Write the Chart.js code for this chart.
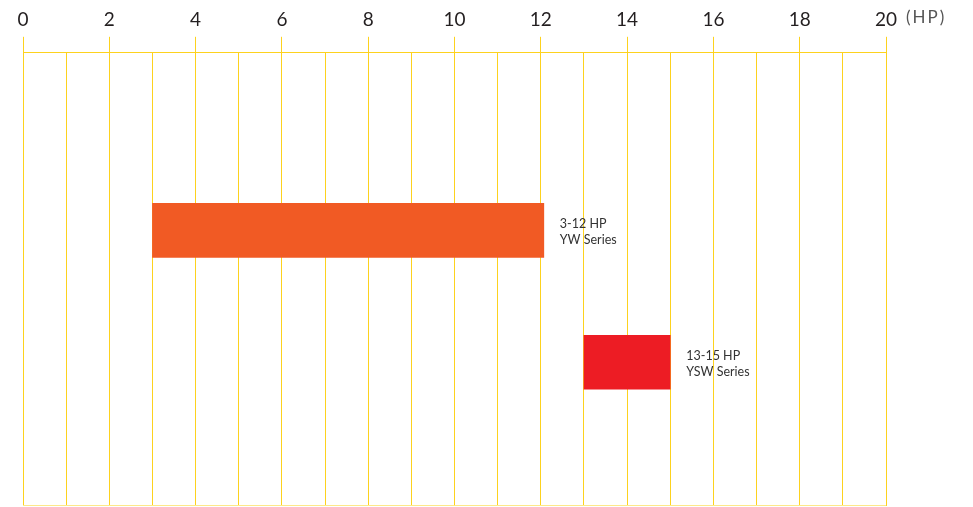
<!DOCTYPE html>
<html>
<head>
<meta charset="utf-8">
<script src="https://cdn.jsdelivr.net/npm/chart.js@4/dist/chart.umd.min.js"></script>
<style>
  html, body { margin: 0; padding: 0; background: #fff; }
  #wrap { width: 973px; height: 507px; }
</style>
</head>
<body>
<div id="wrap"><canvas id="hpChart"></canvas></div>
<script>
// Gamas de potencia (HP)
const series = ["YW Series", "YSW Series"];
const rangeLabels = ["3-12 HP", "13-15 HP"];
const rangeStart = [3, 13];
const rangeEnd = [12.07, 15];
const barColors = ["#f15a24", "#ed1c24"];

const gridYellow = "#fdd21e";

// etiquetas a la derecha de cada barra
const barLabels = {
    id: 'barLabels',
    afterDatasetsDraw(chart) {
        const ctx = chart.ctx;
        const meta = chart.getDatasetMeta(0);
        ctx.save();
        ctx.font = "12.5px Lato, 'DejaVu Sans', sans-serif";
        ctx.fillStyle = "#333";
        ctx.textBaseline = "middle";
        meta.data.forEach((bar, i) => {
            const x = bar.x + 16;
            ctx.fillText(rangeLabels[i], x, bar.y - 6);
            ctx.fillText(series[i], x, bar.y + 10);
        });
        ctx.restore();
    },
    afterDraw(chart) {
        const ctx = chart.ctx;
        const area = chart.chartArea;
        const xs = chart.scales.x;
        ctx.save();
        // linea inferior
        ctx.strokeStyle = "#fde88a";
        ctx.lineWidth = 1;
        ctx.beginPath();
        ctx.moveTo(area.left, area.bottom - 0.5);
        ctx.lineTo(area.right, area.bottom - 0.5);
        ctx.stroke();
        // unidad del eje
        ctx.font = "17px Lato, 'DejaVu Sans', sans-serif";
        ctx.fillStyle = "#555";
        ctx.textBaseline = "middle";
        if (ctx.letterSpacing !== undefined) ctx.letterSpacing = "2px";
        ctx.fillText("(HP)", xs.right + 20, 18);
        ctx.restore();
    }
};

new Chart(document.getElementById('hpChart'), {
    type: 'bar',
    data: {
        labels: series,
        datasets: [{
            data: series.map((s, i) => ({ x: [rangeStart[i], rangeEnd[i]], y: i })),
            backgroundColor: barColors,
            borderWidth: 0,
            barThickness: 54
        }]
    },
    options: {
        indexAxis: 'y',
        responsive: true,
        maintainAspectRatio: false,
        animation: false,
        layout: { padding: { left: 23, right: 87, top: 2, bottom: 1 } },
        plugins: { legend: { display: false }, tooltip: { enabled: false } },
        scales: {
            x: {
                type: 'linear',
                position: 'top',
                min: 0,
                max: 20,
                grid: {
                    color: gridYellow,
                    lineWidth: 1,
                    tickLength: 16,
                    tickColor: (c) => (c.tick && c.tick.value % 2 === 0) ? gridYellow : 'rgba(0,0,0,0)'
                },
                border: { display: true, color: gridYellow },
                ticks: {
                    stepSize: 1,
                    autoSkip: false,
                    maxRotation: 0,
                    padding: 6,
                    color: "#231f20",
                    font: { size: 19, family: "Lato, 'DejaVu Sans', sans-serif" },
                    callback: (v) => v % 2 === 0 ? v : ''
                }
            },
            y: {
                type: 'linear',
                display: false,
                reverse: true,
                offset: false,
                min: -1.348,
                max: 2.091
            }
        }
    },
    plugins: [barLabels]
});
</script>
</body>
</html>
